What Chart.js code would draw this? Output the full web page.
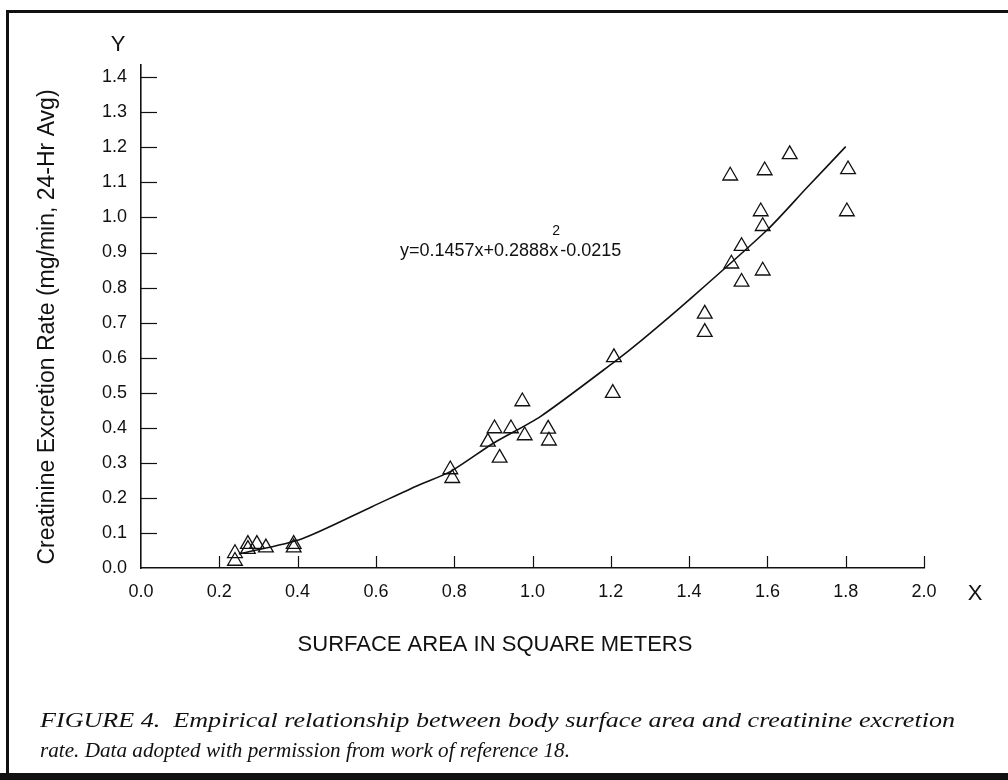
<!DOCTYPE html>
<html>
<head>
<meta charset="utf-8">
<script src="https://cdn.jsdelivr.net/npm/chart.js@4.4.1/dist/chart.umd.min.js"></script>
<style>
  html, body { margin: 0; padding: 0; background: #fff; }
  canvas { display: block; }
</style>
</head>
<body>
<canvas id="c" width="1008" height="780"></canvas>
<script>
// ---- data ----
const obsX = [0.240,0.240,0.273,0.273,0.296,0.319,0.390,0.390,0.790,0.795,0.886,0.903,0.916,0.945,0.974,0.980,1.040,1.042,1.205,1.208,1.440,1.440,1.505,1.508,1.534,1.534,1.583,1.588,1.588,1.593,1.657,1.803,1.806];
const obsY = [0.042,0.020,0.068,0.054,0.068,0.058,0.068,0.058,0.281,0.256,0.360,0.398,0.314,0.398,0.475,0.378,0.397,0.363,0.499,0.601,0.725,0.673,1.119,0.868,0.918,0.816,1.017,0.975,0.848,1.134,1.180,1.017,1.137];
const fitX = [0.25,0.41,0.59,0.71,0.79,0.90,1.02,1.21,1.28,1.40,1.60,1.70,1.80];
const fitY = [0.040,0.083,0.175,0.237,0.275,0.356,0.432,0.589,0.651,0.765,0.965,1.084,1.202];
const xTickLabels = ['0.0','0.2','0.4','0.6','0.8','1.0','1.2','1.4','1.6','1.8','2.0'];
const yTickLabels = ['0.0','0.1','0.2','0.3','0.4','0.5','0.6','0.7','0.8','0.9','1.0','1.1','1.2','1.3','1.4'];
const xTitle = 'SURFACE AREA IN SQUARE METERS';
const yTitle = 'Creatinine Excretion Rate (mg/min, 24-Hr Avg)';
const equationParts = ['y=0.1457x+0.2888x', '2', '-0.0215'];
const captionLines = [
  'FIGURE 4.  Empirical relationship between body surface area and creatinine excretion',
  'rate. Data adopted with permission from work of reference 18.'
];

const SANS = '"Liberation Sans", Arial, Helvetica, sans-serif';
const SERIF = '"Liberation Serif", "Times New Roman", serif';
const INK = '#111';

const decor = {
  id: 'decor',
  beforeDraw(chart) {
    const ctx = chart.ctx;
    ctx.save();
    ctx.fillStyle = '#fff';
    ctx.fillRect(0, 0, chart.width, chart.height);
    ctx.restore();
  },
  afterDraw(chart) {
    const ctx = chart.ctx;
    const xs = chart.scales.x, ys = chart.scales.y;
    const a = chart.chartArea;
    ctx.save();
    ctx.strokeStyle = INK;
    ctx.fillStyle = INK;
    // inward tick marks
    ctx.lineWidth = 1.2;
    ys.ticks.forEach(t => {
      if (t.value === 0) return;
      const py = Math.round(ys.getPixelForValue(t.value)) + 0.5;
      ctx.beginPath(); ctx.moveTo(a.left, py); ctx.lineTo(a.left + 16, py); ctx.stroke();
    });
    xs.ticks.forEach(t => {
      if (t.value === 0) return;
      const px = Math.round(xs.getPixelForValue(t.value)) + 0.5;
      ctx.beginPath(); ctx.moveTo(px, a.bottom); ctx.lineTo(px, a.bottom - 12); ctx.stroke();
    });
    // axis letters
    ctx.font = '22px ' + SANS;
    ctx.textAlign = 'center';
    ctx.textBaseline = 'alphabetic';
    ctx.fillText('Y', 118, 51);
    ctx.fillText('X', 975, 600);
    // x title
    ctx.font = '22px ' + SANS;
    ctx.fillText(xTitle, 495, 651);
    // y title
    ctx.save();
    ctx.translate(48, 327);
    ctx.rotate(-Math.PI / 2);
    ctx.font = '23px ' + SANS;
    ctx.textAlign = 'center';
    ctx.textBaseline = 'middle';
    ctx.fillText(yTitle, 0, 0);
    ctx.restore();
    // equation
    ctx.textAlign = 'left';
    ctx.textBaseline = 'alphabetic';
    ctx.font = '18px ' + SANS;
    const ex = 400, eb = 256;
    ctx.fillText(equationParts[0], ex, eb);
    const w0 = ctx.measureText(equationParts[0]).width;
    ctx.font = '14px ' + SANS;
    ctx.fillText(equationParts[1], ex + w0 - 6, eb - 21);
    ctx.font = '18px ' + SANS;
    ctx.fillText(equationParts[2], ex + w0 + 2, eb);
    // caption: each line set to the width it has in the scanned print
    ctx.font = 'italic 22px ' + SERIF;
    const lineWidths = [915, 530];
    const lineBase = [727, 757];
    captionLines.forEach((txt, i) => {
      const sx = lineWidths[i] / ctx.measureText(txt).width;
      ctx.save();
      ctx.translate(40, lineBase[i]);
      ctx.scale(sx, 1);
      ctx.fillText(txt, 0, 0);
      ctx.restore();
    });
    // frame
    ctx.fillRect(8, 10, 1000, 3);
    ctx.fillRect(6, 10, 3, 770);
    ctx.fillRect(0, 773, 1008, 7);
    ctx.restore();
  }
};

new Chart(document.getElementById('c'), {
  data: {
    datasets: [
      {
        type: 'scatter',
        data: obsX.map((x, i) => ({ x, y: obsY[i] })),
        pointStyle: 'triangle',
        pointRadius: 8.5,
        pointHoverRadius: 8.5,
        borderColor: INK,
        borderWidth: 1.3,
        backgroundColor: 'rgba(0,0,0,0)'
      },
      {
        type: 'line',
        data: fitX.map((x, i) => ({ x, y: fitY[i] })),
        borderColor: INK,
        borderWidth: 1.6,
        pointRadius: 0,
        fill: false,
        tension: 0.25
      }
    ]
  },
  options: {
    responsive: false,
    animation: false,
    devicePixelRatio: 1,
    layout: { padding: { left: 0, right: 84, top: 65, bottom: 0 } },
    plugins: { legend: { display: false }, tooltip: { enabled: false } },
    scales: {
      x: {
        type: 'linear',
        min: 0, max: 2.0,
        afterFit(s) { s.height = 212; },
        grid: { display: false, drawTicks: false },
        border: { display: true, color: INK, width: 1.6 },
        ticks: {
          stepSize: 0.2,
          includeBounds: false,
          padding: 13,
          color: INK,
          font: { family: SANS, size: 18 },
          maxRotation: 0,
          autoSkip: false,
          callback: (v, i) => xTickLabels[i]
        }
      },
      y: {
        type: 'linear',
        min: 0, max: 1.435,
        afterFit(s) { s.width = 141; },
        grid: { display: false, drawTicks: false },
        border: { display: true, color: INK, width: 1.6 },
        ticks: {
          stepSize: 0.1,
          includeBounds: false,
          padding: 14,
          color: INK,
          font: { family: SANS, size: 18 },
          autoSkip: false,
          callback: (v, i) => yTickLabels[i]
        }
      }
    }
  },
  plugins: [decor]
});
</script>
</body>
</html>
